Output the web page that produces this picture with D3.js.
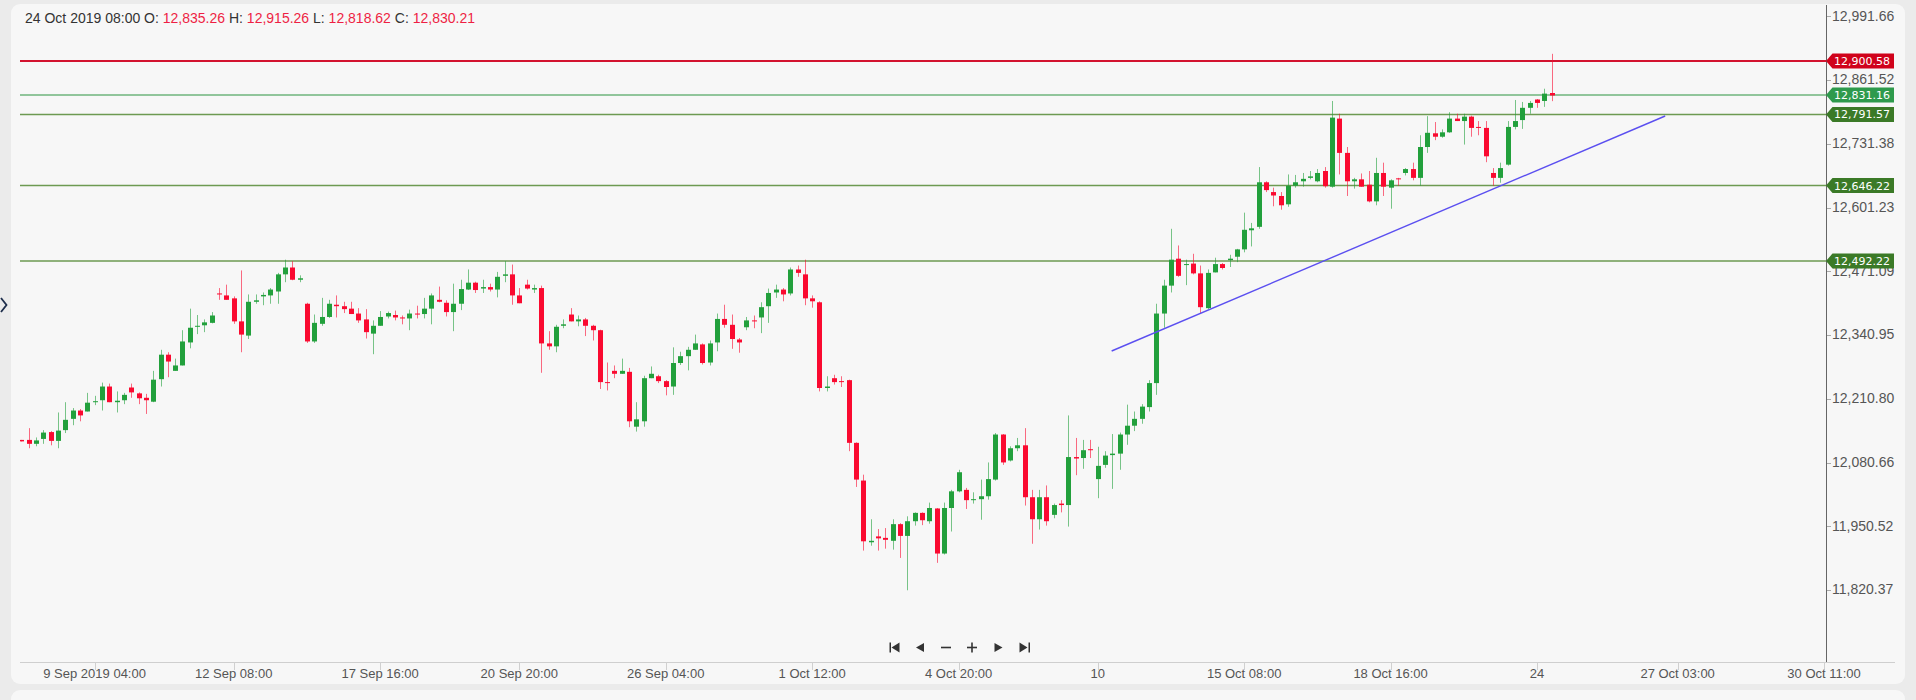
<!DOCTYPE html>
<html><head><meta charset="utf-8">
<script src="https://cdn.jsdelivr.net/npm/d3@7"></script>
<style>
html,body{margin:0;padding:0;background:#ebebeb;}
svg{display:block;}
</style></head><body>
<svg id="chart" width="1916" height="700"></svg>
<script>
// ---- data (4h candles, index 0 .. 209; last = 24 Oct 2019 08:00) ----
const openV = [12127,12127,12119,12129,12143,12125,12147,12170,12187,12185,
12204,12208,12236,12204,12208,12234,12222,12213,12205,12251,
12301,12268,12279,12326,12358,12361,12366,12426,12422,12416,
12369,12340,12409,12420,12422,12430,12465,12479,12454,12405,
12328,12364,12378,12403,12400,12395,12385,12373,12344,12360,
12379,12382,12377,12375,12385,12384,12395,12413,12407,12388,
12405,12434,12448,12436,12439,12434,12462,12465,12422,12444,
12434,12437,12324,12318,12360,12383,12369,12373,12360,12351,
12245,12268,12262,12266,12154,12165,12253,12257,12247,12236,
12284,12298,12311,12322,12285,12326,12374,12362,12332,12357,
12371,12377,12400,12428,12434,12426,12475,12465,12416,12408,
12233,12253,12247,12249,12121,12044,11918,11930,11927,11921,
11955,11931,11961,11978,11961,11987,11895,11988,12022,12025,
12004,12006,12012,12046,12138,12085,12110,12116,12010,11965,
12010,11974,11997,11994,12092,12090,12108,12047,12076,12096,
12099,12138,12156,12170,12194,12243,12385,12442,12497,12484,
12487,12467,12396,12469,12486,12494,12501,12516,12555,12562,
12653,12633,12625,12608,12646,12655,12662,12655,12676,12644,
12783,12713,12655,12659,12648,12614,12672,12642,12661,12672,
12680,12662,12725,12753,12746,12755,12783,12778,12787,12766,
12764,12672,12662,12689,12766,12780,12805,12822,12819,12835.26];
const highV = [12127,12151,12132,12147,12145,12183,12204,12192,12190,12223,
12217,12244,12242,12226,12223,12242,12224,12221,12268,12311,
12306,12293,12351,12395,12382,12373,12388,12437,12444,12420,
12473,12424,12424,12428,12437,12468,12495,12492,12463,12407,
12383,12417,12413,12422,12409,12409,12396,12394,12371,12390,
12389,12391,12381,12393,12401,12417,12426,12440,12412,12446,
12454,12475,12450,12454,12446,12470,12492,12485,12437,12454,
12444,12442,12349,12362,12373,12396,12381,12376,12362,12352,
12285,12279,12293,12274,12204,12258,12277,12260,12249,12316,
12307,12317,12342,12324,12330,12385,12403,12383,12335,12378,
12381,12408,12436,12444,12437,12479,12483,12495,12422,12410,
12257,12260,12257,12250,12122,12056,11965,11945,11947,11965,
11957,11971,11979,11979,11999,11988,11999,12025,12066,12029,
12020,12046,12081,12141,12139,12114,12131,12151,12025,12025,
12034,11997,12004,12177,12131,12127,12127,12113,12104,12139,
12142,12199,12185,12200,12249,12405,12454,12558,12524,12495,
12507,12483,12475,12499,12488,12505,12517,12591,12570,12684,
12655,12642,12633,12669,12668,12672,12676,12680,12684,12819,
12793,12725,12662,12671,12676,12703,12693,12659,12662,12682,
12693,12749,12788,12776,12761,12796,12793,12793,12789,12778,
12778,12682,12693,12778,12821,12817,12819,12823,12844,12915.26];
const lowV = [12124,12110,12114,12119,12116,12110,12141,12157,12165,12185,
12198,12187,12204,12183,12200,12213,12200,12180,12204,12236,
12255,12268,12279,12314,12343,12347,12365,12413,12413,12364,
12306,12333,12405,12402,12405,12405,12449,12453,12449,12325,
12325,12360,12376,12377,12386,12384,12366,12334,12302,12360,
12375,12371,12363,12351,12375,12375,12363,12408,12379,12349,
12392,12433,12427,12427,12430,12418,12449,12403,12406,12434,
12427,12264,12311,12306,12355,12369,12359,12339,12330,12231,
12228,12253,12262,12153,12144,12154,12253,12243,12218,12219,
12280,12269,12311,12281,12279,12308,12356,12313,12305,12351,
12355,12345,12366,12417,12410,12422,12460,12402,12397,12226,
12226,12240,12235,12104,12031,11901,11911,11901,11905,11903,
11886,11820,11952,11953,11956,11876,11893,11940,12020,11986,
11997,11964,12005,12044,12076,12083,12104,11993,11915,11944,
11952,11967,11979,11950,12055,12068,12090,12008,12070,12027,
12066,12117,12145,12160,12185,12219,12356,12428,12460,12443,
12465,12386,12394,12469,12475,12480,12490,12510,12522,12558,
12633,12604,12597,12603,12642,12644,12659,12653,12642,12642,
12669,12625,12640,12644,12612,12606,12625,12599,12646,12667,
12657,12646,12713,12739,12744,12754,12778,12730,12746,12749,
12694,12646,12652,12687,12761,12762,12793,12805,12807,12818.62];
const closeV = [12124,12119,12126,12142,12125,12146,12168,12187,12177,12203,
12206,12236,12204,12207,12219,12224,12212,12208,12250,12301,
12287,12279,12328,12356,12360,12367,12381,12424,12413,12369,
12342,12409,12412,12423,12434,12465,12479,12454,12457,12328,
12366,12378,12405,12400,12394,12384,12371,12347,12360,12378,
12386,12377,12375,12385,12383,12395,12422,12409,12388,12405,
12435,12448,12433,12439,12434,12460,12465,12422,12406,12436,
12437,12324,12318,12358,12363,12369,12373,12360,12351,12245,
12243,12262,12268,12165,12169,12253,12262,12247,12235,12284,
12298,12311,12324,12284,12324,12374,12362,12333,12326,12371,
12369,12398,12427,12434,12424,12475,12468,12416,12410,12233,
12236,12245,12245,12121,12046,11920,11921,11926,11923,11955,
11931,11961,11978,11963,11988,11895,11988,12022,12061,12004,
12006,12012,12047,12138,12081,12110,12116,12010,11965,12010,
11961,11994,11994,12092,12089,12106,12106,12074,12095,12099,
12138,12156,12170,12195,12243,12385,12442,12495,12462,12486,
12467,12398,12468,12486,12478,12497,12516,12556,12559,12653,
12637,12626,12606,12646,12653,12660,12665,12672,12645,12785,
12713,12655,12659,12644,12614,12672,12644,12657,12659,12680,
12662,12725,12754,12746,12755,12783,12778,12787,12764,12764,
12706,12662,12682,12766,12778,12805,12815,12815,12834,12830.21];

const tickIndex  = [10, 29, 49, 68, 88, 108, 128, 147, 167, 187, 207, 226.2, 246.2];
const tickLabels = ["9 Sep 2019 04:00","12 Sep 08:00","17 Sep 16:00","20 Sep 20:00","26 Sep 04:00",
                    "1 Oct 12:00","4 Oct 20:00","10","15 Oct 08:00","18 Oct 16:00","24","27 Oct 03:00","30 Oct 11:00"];
const yTickValues = [11820.37,11950.52,12080.66,12210.80,12340.95,12471.09,12601.23,12731.38,12861.52,12991.66];
const levelValues = [12900.58, 12831.16, 12791.57, 12646.22, 12492.22];
const levelLineColors = ["#d3132f", "#6fb57c", "#6d9a52", "#6d9a52", "#6d9a52"];
const levelTagColors  = ["#d0021b", "#2e9a4c", "#3b7a27", "#3b7a27", "#3b7a27"];
const trendIndex  = [148.9, 224.5];
const trendValues = [12308.5, 12788.3];
const headerParts = [["24 Oct 2019 08:00 O: ", "#333"], ["12,835.26", "#ee1f44"], [" H: ", "#333"], ["12,915.26", "#ee1f44"],
                     [" L: ", "#333"], ["12,818.62", "#ee1f44"], [" C: ", "#333"], ["12,830.21", "#ee1f44"]];

// ---- layout ----
const svg = d3.select("#chart");
const W = 1916, H = 700;
const plotL = 20, plotR = 1826, plotT = 5, plotB = 662;
const x = d3.scaleLinear().domain([0, 246.2]).range([21.4, 21.4 + 246.2 * 7.322]);
const y = d3.scaleLinear().domain([11820.37, 12991.66]).range([16.4 + 1171.29 * 0.4898, 16.4]);
const GREEN = "#22a03c", RED = "#fa0a30";
const fontUI = "'Liberation Sans', Arial, sans-serif";

svg.append("rect").attr("width", W).attr("height", H).attr("fill", "#ebebeb");
svg.append("rect").attr("x", 11).attr("y", 4).attr("width", 1894).attr("height", 680).attr("rx", 9).attr("fill", "#f7f7f7");
svg.append("rect").attr("x", 11).attr("y", 690).attr("width", 1894).attr("height", 40).attr("rx", 9).attr("fill", "#f7f7f7");

// left chevron
svg.append("path").attr("d", "M1,298 L6.5,305 L1,312").attr("fill", "none").attr("stroke", "#1d2d4b").attr("stroke-width", 1.8);

// header
const ht = svg.append("text").attr("x", 25).attr("y", 22.5).attr("font-family", fontUI).attr("font-size", 14);
headerParts.forEach(p => ht.append("tspan").text(p[0]).attr("fill", p[1]).style("white-space", "pre"));
ht.attr("xml:space", "preserve");

// clip
svg.append("clipPath").attr("id", "plotclip").append("rect")
  .attr("x", plotL).attr("y", plotT).attr("width", plotR - plotL).attr("height", plotB - plotT);
const plot = svg.append("g").attr("clip-path", "url(#plotclip)");

// level lines
plot.selectAll("line.level").data(levelValues).enter().append("line")
  .attr("x1", plotL).attr("x2", plotR)
  .attr("y1", d => y(d)).attr("y2", d => y(d))
  .attr("stroke", (d, i) => levelLineColors[i]).attr("stroke-width", (d, i) => i === 0 ? 2 : 1.5);

// candles
const idx = d3.range(openV.length);
const g = plot.append("g");
g.selectAll("line.wick").data(idx).enter().append("line")
  .attr("x1", i => Math.round(x(i)) + 0.5).attr("x2", i => Math.round(x(i)) + 0.5)
  .attr("y1", i => y(highV[i])).attr("y2", i => y(lowV[i]))
  .attr("stroke", i => closeV[i] >= openV[i] ? GREEN : RED)
  .attr("stroke-opacity", 0.6).attr("stroke-width", 1);
g.selectAll("rect.body").data(idx).enter().append("rect")
  .attr("x", i => Math.round(x(i)) - 2).attr("width", 5)
  .attr("y", i => y(Math.max(openV[i], closeV[i])))
  .attr("height", i => Math.max(1, Math.abs(y(openV[i]) - y(closeV[i]))))
  .attr("fill", i => closeV[i] >= openV[i] ? GREEN : RED);

// trend line
plot.append("line")
  .attr("x1", x(trendIndex[0])).attr("y1", y(trendValues[0]))
  .attr("x2", x(trendIndex[1])).attr("y2", y(trendValues[1]))
  .attr("stroke", "#5b4ff0").attr("stroke-width", 1.4);

// x axis
svg.append("line").attr("x1", plotL).attr("x2", 1895).attr("y1", plotB + 0.5).attr("y2", plotB + 0.5)
  .attr("stroke", "#cfcfcf").attr("stroke-width", 1);
const xg = svg.append("g");
xg.selectAll("line").data(tickIndex).enter().append("line")
  .attr("x1", d => Math.round(x(d)) + 0.5).attr("x2", d => Math.round(x(d)) + 0.5)
  .attr("y1", plotB).attr("y2", plotB + 8).attr("stroke", "#d0d0d0");
xg.selectAll("text").data(tickIndex).enter().append("text")
  .attr("x", d => x(d)).attr("y", 678).attr("text-anchor", "middle")
  .attr("font-family", fontUI).attr("font-size", 13).attr("fill", "#555")
  .text((d, i) => tickLabels[i]);

// y axis
svg.append("line").attr("x1", plotR + 0.5).attr("x2", plotR + 0.5).attr("y1", 5).attr("y2", plotB)
  .attr("stroke", "#666").attr("stroke-width", 1);
const yg = svg.append("g");
const fmt = d3.format(",.2f");
yg.selectAll("line").data(yTickValues).enter().append("line")
  .attr("x1", plotR + 1).attr("x2", plotR + 5).attr("y1", d => Math.round(y(d)) + 0.5).attr("y2", d => Math.round(y(d)) + 0.5)
  .attr("stroke", "#aaa");
yg.selectAll("text").data(yTickValues).enter().append("text")
  .attr("x", 1832).attr("y", d => y(d)).attr("dy", "0.3em")
  .attr("font-family", fontUI).attr("font-size", 14).attr("fill", "#555")
  .text(d => fmt(d));

// level tags
const tg = svg.append("g");
levelValues.forEach((v, i) => {
  const yc = y(v);
  tg.append("path")
    .attr("d", `M${plotR},${yc} L${plotR + 6.5},${yc - 7.5} L1894,${yc - 7.5} L1894,${yc + 7.5} L${plotR + 6.5},${yc + 7.5} Z`)
    .attr("fill", levelTagColors[i]);
  tg.append("text").attr("x", 1834).attr("y", yc).attr("dy", "0.36em")
    .attr("font-family", "'DejaVu Sans', Verdana, sans-serif").attr("font-size", 11).attr("fill", "#fff")
    .text(fmt(v));
});

// navigation buttons
const nav = svg.append("g").attr("fill", "#333").attr("stroke", "none");
const cy = 647.5;
nav.append("rect").attr("x", 889.5).attr("y", cy - 5).attr("width", 1.5).attr("height", 10);
nav.append("path").attr("d", `M891.5,${cy} L899.5,${cy - 5} L899.5,${cy + 5} Z`);
nav.append("path").attr("d", `M916,${cy} L924,${cy - 4.5} L924,${cy + 4.5} Z`);
nav.append("rect").attr("x", 941).attr("y", cy - 0.8).attr("width", 10).attr("height", 1.6);
nav.append("rect").attr("x", 967).attr("y", cy - 0.8).attr("width", 10).attr("height", 1.6);
nav.append("rect").attr("x", 971.2).attr("y", cy - 5).attr("width", 1.6).attr("height", 10);
nav.append("path").attr("d", `M1002.5,${cy} L994.5,${cy - 4.5} L994.5,${cy + 4.5} Z`);
nav.append("path").attr("d", `M1027.5,${cy} L1019.5,${cy - 5} L1019.5,${cy + 5} Z`);
nav.append("rect").attr("x", 1028.5).attr("y", cy - 5).attr("width", 1.5).attr("height", 10);
</script>
</body></html>
